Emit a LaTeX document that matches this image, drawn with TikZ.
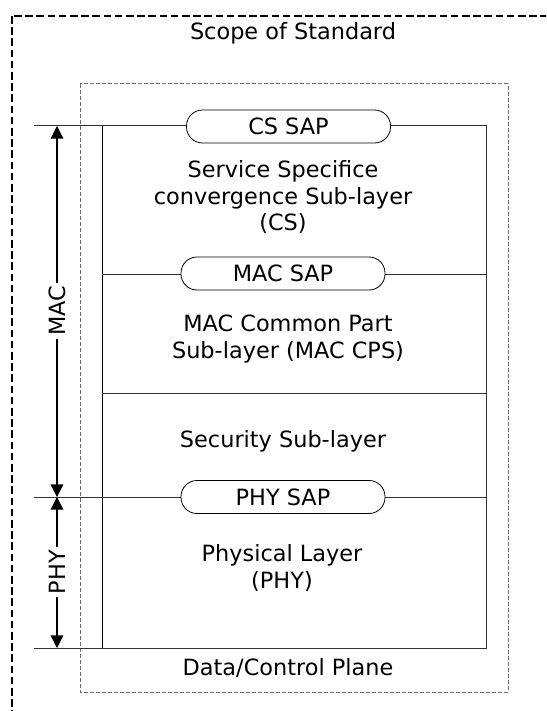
\documentclass[tikz,border=0pt]{standalone}
\usepackage{fontspec}
\setmainfont{DejaVu Sans}
\usetikzlibrary{arrows.meta,positioning}

\begin{document}
\begin{tikzpicture}[x=0.5pt, y=-0.5pt, font=\fontsize{11.2}{13.3}\selectfont]
\definecolor{linea}{RGB}{50,50,50}
\definecolor{tratto}{RGB}{110,110,110}
\tikzset{
  sap/.style={draw, fill=white, rounded corners=8pt,
    minimum width=102pt, minimum height=16.5pt, inner sep=0pt},
  strato/.style={align=center, inner sep=0pt},
  etichetta/.style={rotate=90, inner sep=1.5pt},
  freccia/.style={line width=0.6pt, -{Triangle[length=6.3pt,width=6.3pt]}},
}

\clip (0,0) rectangle (546,711);

% ======================================================
% CORNICI
% ======================================================

% esterna
\draw[line width=1.3pt, dash pattern=on 3.8pt off 1.8pt]
  (12,16) rectangle (600,760);
\node (scope) at (293,33) {Scope of Standard};

% interna
\draw[tratto, line width=0.5pt, dash pattern=on 2pt off 1pt]
  (80,84) rectangle (508,692);
\node (plane) at (288,668) {Data/Control Plane};

% ======================================================
% STRATI
% ======================================================

\draw[linea, line width=0.5pt]
  (34,126) -- (486,126) -- (486,648) -- (34,648);
\draw[line width=0.5pt] (102,126) -- (102,648);
\draw[linea, line width=0.5pt] (102,274) -- (486,274);
\draw[linea, line width=0.5pt] (102,393) -- (486,393);
\draw[linea, line width=0.5pt] (34,497) -- (486,497);

% SAP
\node[sap] (cssap)  at (288.5,126.5) {CS SAP};
\node[sap] (macsap) at (283,273.5) {MAC SAP};
\node[sap] (physap) at (283,497) {PHY SAP};

% testi
\node[strato] (cs)  at (283,197)
  {Service Specifice\\convergence Sub-layer\\(CS)};
\node[strato] (cps) at (288,339) {MAC Common Part\\Sub-layer (MAC CPS)};
\node[strato] (sec) at (283,441) {Security Sub-layer};
\node[strato] (phy) at (282,568) {Physical Layer\\(PHY)};

% ======================================================
% FRECCE MAC / PHY
% ======================================================

\coordinate (mactop) at (57,126);
\coordinate (macbot) at (57,497);
\coordinate (phybot) at (57,648);

\node[etichetta] (mac) at (57,311) {MAC};
\node[etichetta] (phyl) at (57,572) {PHY};

\draw[freccia] (mac) -- (mactop);
\draw[freccia] (mac) -- (macbot);
\draw[freccia] (phyl) -- (macbot);
\draw[freccia] (phyl) -- (phybot);

\end{tikzpicture}
\end{document}
